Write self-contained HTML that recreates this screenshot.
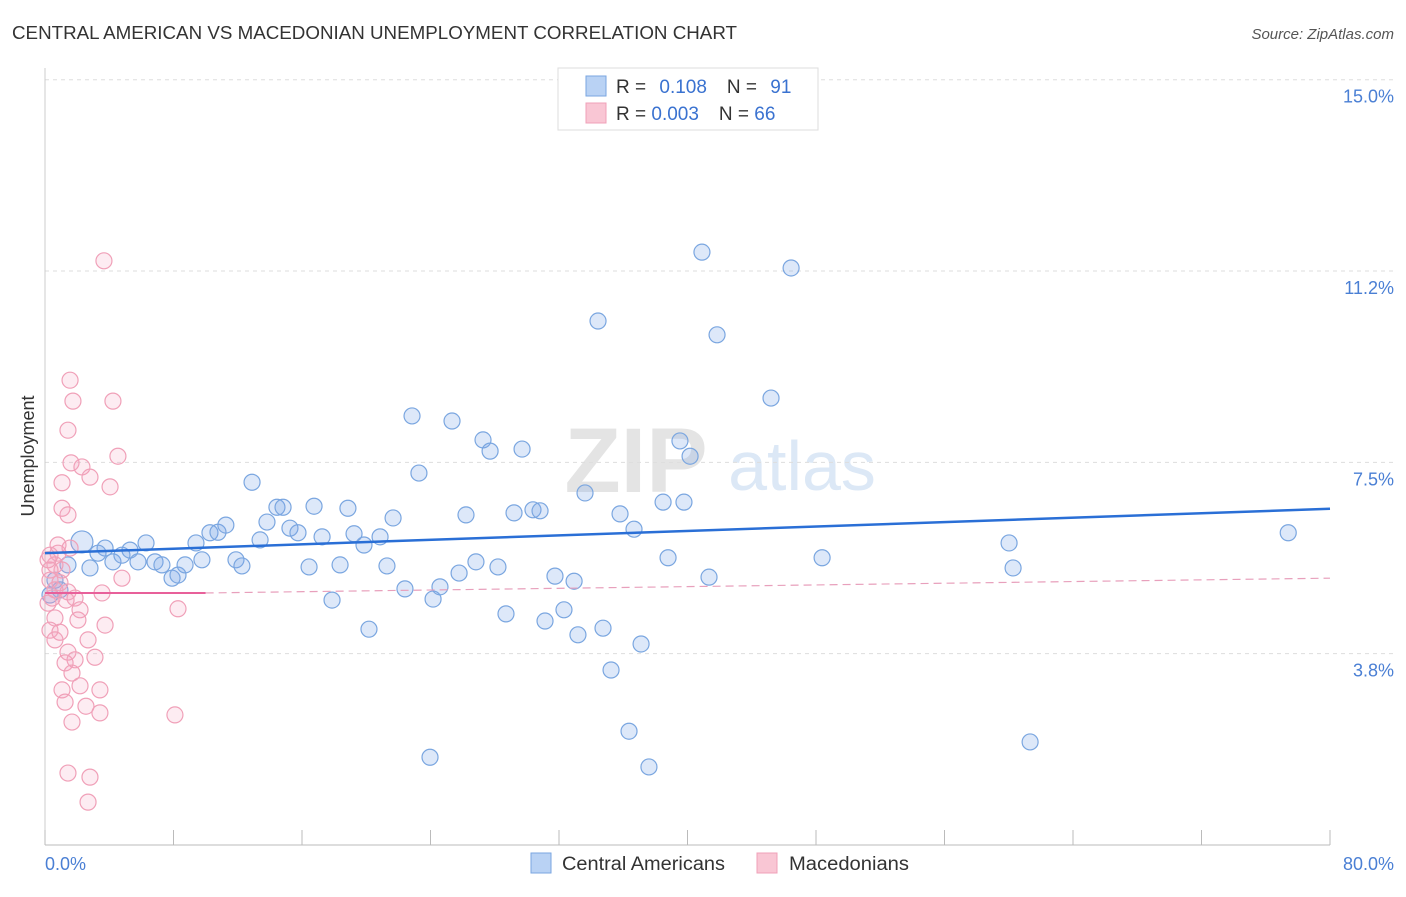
<!DOCTYPE html>
<html><head><meta charset="utf-8"><style>
body{margin:0;background:#fff;font-family:"Liberation Sans",sans-serif}
svg text{font-family:"Liberation Sans",sans-serif}
</style></head><body>
<svg width="1406" height="892" viewBox="0 0 1406 892">
<text x="12" y="39" font-size="18" fill="#333" textLength="725" lengthAdjust="spacingAndGlyphs">CENTRAL AMERICAN VS MACEDONIAN UNEMPLOYMENT CORRELATION CHART</text>
<text x="1394" y="39" font-size="15" fill="#555" text-anchor="end" font-style="italic">Source: ZipAtlas.com</text>
<g>
<text x="636" y="492" font-size="92" fill="#e4e4e4" text-anchor="middle" font-family="Liberation Serif" font-weight="bold">ZIP</text>
<text x="802" y="490" font-size="70" fill="#dce8f6" text-anchor="middle">atlas</text>
</g>
<g id="grid"></g><g id="axes"></g><g id="pts"></g><g id="trends"></g>
<text x="34" y="456" font-size="18" fill="#333" text-anchor="middle" transform="rotate(-90 34 456)">Unemployment</text>
<text x="45" y="870" font-size="18" fill="#4a7fd4">0.0%</text>
<text x="1394" y="870" font-size="18" fill="#4a7fd4" text-anchor="end">80.0%</text>
<g>
<rect x="558" y="68" width="260" height="62" fill="#fff" stroke="#ddd"/>
<rect x="586" y="76" width="20" height="20" fill="#b9d2f4" stroke="#7aa6e0"/>
<rect x="586" y="103" width="20" height="20" fill="#f9c6d4" stroke="#f0a0b8"/>
<text x="616" y="93" font-size="19" fill="#333">R = <tspan fill="#3a72d0" dx="8">0.108</tspan><tspan dx="20" fill="#333">N = </tspan><tspan fill="#3a72d0" dx="8">91</tspan></text>
<text x="616" y="120" font-size="19" fill="#333">R = <tspan fill="#3a72d0">0.003</tspan><tspan dx="20" fill="#333">N = </tspan><tspan fill="#3a72d0">66</tspan></text>
</g>
<g>
<rect x="531" y="853" width="20" height="20" fill="#b9d2f4" stroke="#7aa6e0"/>
<text x="562" y="870" font-size="19" fill="#333" textLength="163" lengthAdjust="spacingAndGlyphs">Central Americans</text>
<rect x="757" y="853" width="20" height="20" fill="#f9c6d4" stroke="#f0a0b8"/>
<text x="789" y="870" font-size="19" fill="#333" textLength="120" lengthAdjust="spacingAndGlyphs">Macedonians</text>
</g>
</svg>
<script>
const yTicks=[3.75,7.5,11.25,15];
const yTickLabels=["3.8%","7.5%","11.2%","15.0%"];
const xTicks=[0,8,16,24,32,40,48,56,64,72,80];
const blueX=[2.3,1.43,2.8,3.74,3.3,4.23,4.79,5.29,6.29,5.79,6.85,7.28,7.91,8.28,8.72,9.4,9.77,10.27,10.77,11.26,11.89,12.26,12.89,13.39,13.82,14.44,14.82,15.25,15.75,16.44,16.75,17.25,17.87,18.37,18.86,19.24,19.86,20.17,20.86,21.29,21.67,22.41,22.85,23.28,24.16,24.59,25.34,25.78,26.21,26.83,27.27,27.71,28.2,28.7,29.2,29.7,30.38,30.82,31.13,31.75,32.31,32.94,33.18,33.62,34.43,34.74,35.24,35.8,36.36,36.67,37.11,37.6,38.48,38.79,39.53,39.78,40.16,40.9,41.34,41.84,45.2,46.45,48.38,60.02,60.27,61.33,77.4,23.97,0.62,0.93,0.31];
const blueY=[5.94,5.49,5.43,5.82,5.72,5.55,5.68,5.78,5.92,5.55,5.55,5.49,5.23,5.29,5.49,5.92,5.59,6.12,6.13,6.27,5.59,5.47,7.11,5.98,6.33,6.62,6.62,6.21,6.12,5.45,6.64,6.04,4.8,5.49,6.6,6.1,5.88,4.23,6.04,5.47,6.41,5.02,8.41,7.29,4.82,5.06,8.31,5.33,6.47,5.55,7.94,7.72,5.45,4.53,6.51,7.76,6.57,6.55,4.39,5.27,4.61,5.17,4.12,6.9,10.27,4.25,3.43,6.49,2.23,6.19,3.94,1.53,6.72,5.63,7.92,6.72,7.62,11.62,5.25,10.0,8.76,11.31,5.63,5.92,5.43,2.02,6.12,1.72,5.19,5.0,4.9];
const pinkX=[3.67,1.56,1.74,4.23,1.43,4.54,1.62,2.3,2.8,4.05,1.06,1.06,1.43,0.31,0.81,1.56,0.62,1.06,0.31,4.79,0.93,0.62,1.43,3.55,1.87,0.19,2.18,8.28,0.62,2.05,3.74,0.31,0.93,0.62,2.68,1.43,3.11,1.87,1.25,1.68,1.06,2.18,3.42,1.25,2.55,3.42,1.68,8.09,1.43,2.8,2.68,0.31,0.19,0.44,0.81,1.31];
const pinkY=[11.45,9.11,8.7,8.7,8.13,7.62,7.49,7.41,7.21,7.02,7.1,6.6,6.47,5.68,5.72,5.82,5.49,5.39,5.19,5.23,5.14,5.0,4.96,4.94,4.84,4.74,4.61,4.63,4.45,4.41,4.31,4.21,4.17,4.02,4.02,3.78,3.68,3.63,3.57,3.37,3.04,3.12,3.04,2.8,2.72,2.59,2.41,2.55,1.41,1.33,0.84,5.39,5.59,4.84,5.88,4.8];
const blueTrend=[[0,5.72],[80,6.59]];
const pinkTrend=[[0,4.94],[10,4.94],[80,5.23]];
const X=v=>45+v/80*1285, Y=v=>845-v*51.02;
const NS="http://www.w3.org/2000/svg";
function mk(p,t,a){const e=document.createElementNS(NS,t);for(const k in a)e.setAttribute(k,a[k]);p.appendChild(e);return e;}
const grid=document.getElementById('grid'),axes=document.getElementById('axes'),pts=document.getElementById('pts'),tr=document.getElementById('trends');
yTicks.forEach((t,i)=>{
 const l=mk(grid,'line',{x1:45,x2:1394,y1:Y(t),y2:Y(t),stroke:'#ddd','stroke-dasharray':'4 4'});
 
 
 const tx=mk(grid,'text',{x:1394,y:Y(t)+23,'font-size':18,fill:'#4a7fd4','text-anchor':'end'});
 tx.textContent=yTickLabels[i];
 
 
});
const ax=mk(axes,'line',{x1:45,x2:1330,y1:845,y2:845,stroke:'#bbb'});


const ay=mk(axes,'line',{x1:45,x2:45,y1:68,y2:845,stroke:'#ccc'});


xTicks.forEach(t=>{
 const l=mk(axes,'line',{x1:X(t),x2:X(t),y1:830,y2:845,stroke:'#bbb'});
 
 
});
blueX.forEach((v,i)=>{
 const c=mk(pts,'circle',{cx:X(v),cy:Y(blueY[i]),r:i==0?11:8,fill:'rgba(120,165,230,0.25)',stroke:'#7aa6e0','stroke-width':1.2});
 
 
});
pinkX.forEach((v,i)=>{
 const c=mk(pts,'circle',{cx:X(v),cy:Y(pinkY[i]),r:8,fill:'rgba(245,160,190,0.2)',stroke:'#f0a0b8','stroke-width':1.2});
 
 
});
const bl=mk(tr,'line',{x1:X(blueTrend[0][0]),y1:Y(blueTrend[0][1]),x2:X(blueTrend[1][0]),y2:Y(blueTrend[1][1]),stroke:'#2a6fd6','stroke-width':2.5});


const ps=mk(tr,'line',{x1:X(pinkTrend[0][0]),y1:Y(pinkTrend[0][1]),x2:X(pinkTrend[1][0]),y2:Y(pinkTrend[1][1]),stroke:'#e8609a','stroke-width':2});


const pd=mk(tr,'line',{x1:X(pinkTrend[1][0]),y1:Y(pinkTrend[1][1]),x2:X(pinkTrend[2][0]),y2:Y(pinkTrend[2][1]),stroke:'#e8a0bc','stroke-width':1.2,'stroke-dasharray':'8 5'});


</script>
</body></html>
